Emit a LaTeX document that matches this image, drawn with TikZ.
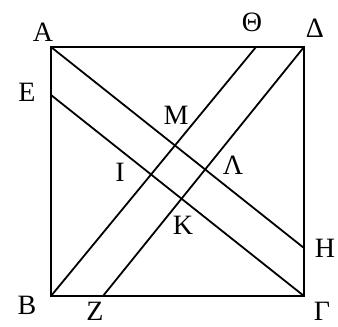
\documentclass[tikz,border=0pt]{standalone}
\usepackage{fontspec}
\setmainfont{Liberation Serif}
\begin{document}
\begin{tikzpicture}[x=1pt,y=-1pt,
  seg/.style={line width=1.8pt, line cap=round, line join=miter},
  lbl/.style={font=\fontsize{28}{28}\selectfont, inner sep=0pt}]
\useasboundingbox (0,0) rectangle (338,327);
\coordinate (A) at (51,47);
\coordinate (D) at (304,47);
\coordinate (B) at (51,296);
\coordinate (G) at (304,296);
\coordinate (E) at (51,95);
\coordinate (T) at (256,47);
\coordinate (H) at (304,248);
\coordinate (Z) at (103,296);
\draw[seg] (A) -- (D) -- (G) -- (B) -- cycle;
\draw[seg] (A) -- (H);
\draw[seg] (E) -- (G);
\draw[seg] (B) -- (T);
\draw[seg] (Z) -- (D);
\node[lbl] (lA) at (43,32) {A};
\node[lbl] (lE) at (27,92) {E};
\node[lbl] (lT) at (252,22) {Θ};
\node[lbl] (lD) at (315,28) {Δ};
\node[lbl] (lM) at (176,115) {M};
\node[lbl] (lI) at (120,172) {I};
\node[lbl] (lL) at (233,165) {Λ};
\node[lbl] (lK) at (183,225) {K};
\node[lbl] (lH) at (325,248) {H};
\node[lbl] (lB) at (27,305) {B};
\node[lbl] (lZ) at (95,311) {Z};
\node[lbl] (lG) at (322,311) {Γ};
\end{tikzpicture}
\end{document}
